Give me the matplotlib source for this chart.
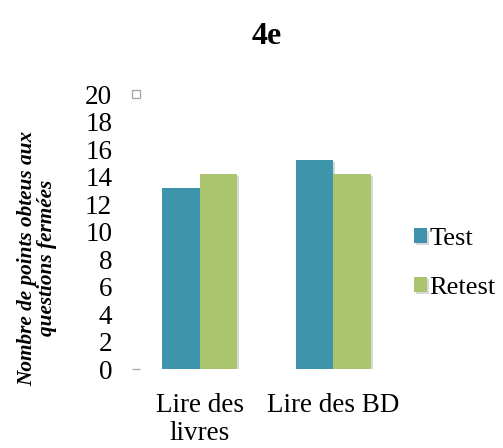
import matplotlib
matplotlib.use("Agg")
import matplotlib.pyplot as plt
import matplotlib.patheffects as pe
import numpy as np

# data
categories = ["Lire des\nlivres", "Lire des BD"]
test = [13.2, 15.2]
retest = [14.2, 14.2]
y_ticks = list(range(0, 21, 2))

plt.rcParams['font.family'] = ['Liberation Serif', 'DejaVu Serif']

fig = plt.figure(figsize=(5.03, 4.48), dpi=100)
ax = fig.add_axes([0.2644, 0.1763, 0.5308, 0.6138])

x = np.arange(len(categories))
w = 0.28
shadow = [pe.SimplePatchShadow(offset=(1.5, -1.5), shadow_rgbFace='#aaaaaa', alpha=0.45), pe.Normal()]
b1 = ax.bar(x - w / 2, test, width=w, color='#3E95AB', label='Test', path_effects=shadow)
b2 = ax.bar(x + w / 2, retest, width=w, color='#ABC46E', label='Retest', path_effects=shadow)

ax.set_xlim(-0.5, 1.5)
ax.set_ylim(0, 20)
ax.set_yticks(y_ticks)
ax.set_xticks(x)
ax.set_xticklabels(categories, fontsize=19.5, linespacing=1.2)
ax.tick_params(axis='y', length=0, pad=15, labelsize=19.5)
ax.tick_params(axis='x', length=0, pad=17)

for s in ['top', 'left', 'right', 'bottom']:
    ax.spines[s].set_visible(False)

# small grey marks seen at the axis ends
ax.plot([0.01], [0], marker='_', color='#aaaaaa', markersize=6, transform=ax.get_yaxis_transform(), clip_on=False)
ax.plot([0.01], [20], marker='s', mfc='none', mec='#aaaaaa', markersize=6, transform=ax.get_yaxis_transform(), clip_on=False)

fig.text(0.073, 0.424, 'Nombre de points obteus aux\nquestions fermées', rotation=90,
         ha='center', va='center', fontsize=15.3, fontweight='bold', fontstyle='italic', linespacing=1.0)

fig.text(0.53, 0.918, '4e', ha='center', va='center', fontsize=23, fontweight='bold')

fig.legend(handles=[b1, b2], loc='center left', bbox_to_anchor=(0.823, 0.412), frameon=False,
           fontsize=19, handlelength=0.48, handleheight=0.48, handletextpad=0.1, labelspacing=1.0,
           borderpad=0, borderaxespad=0)

fig.savefig('out.png', dpi=100)
